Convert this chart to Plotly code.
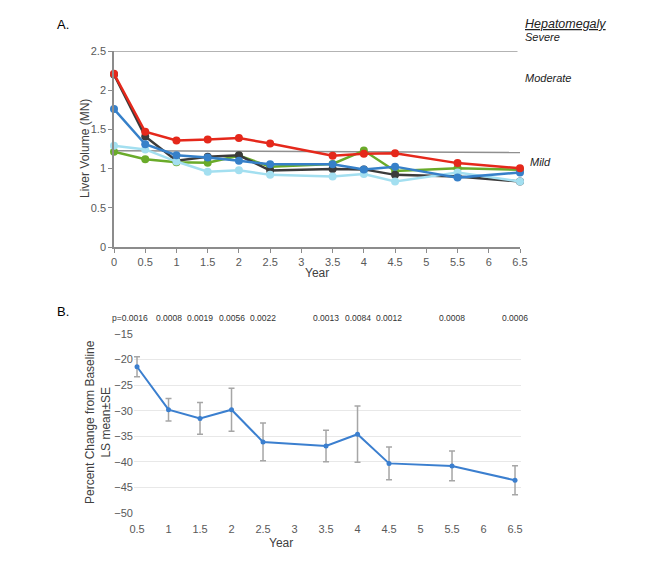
import plotly.graph_objects as go

W, H = 669, 561
OFF = 8  # page body margin offset

# ---------------- Data: Panel A ----------------
years_a = [0, 0.5, 1, 1.5, 2, 2.5, 3.5, 4, 4.5, 5.5, 6.5]
red_vals = [2.21, 1.47, 1.36, 1.37, 1.39, 1.32, 1.165, 1.19, 1.195, 1.07, 1.005]
black_vals = [2.20, 1.41, 1.10, 1.15, 1.17, 0.975, 0.995, 0.99, 0.92, 0.90, 0.835]
blue_vals = [1.76, 1.31, 1.17, 1.14, 1.10, 1.055, 1.055, 0.99, 1.025, 0.885, 0.95]
green_vals = [1.215, 1.12, 1.08, 1.075, 1.165, 1.025, 1.06, 1.23, 0.97, 1.005, 0.985]
lightblue_vals = [1.29, 1.245, 1.09, 0.96, 0.98, 0.92, 0.90, 0.93, 0.835, 0.95, 0.835]
severe_threshold = 2.5
mild_threshold = [1.228, 1.205]
severity_labels = ["Severe", "Moderate", "Mild"]

# ---------------- Data: Panel B ----------------
years_b = [0.5, 1, 1.5, 2, 2.5, 3.5, 4, 4.5, 5.5, 6.5]
pct_change = [-21.4, -29.8, -31.5, -29.8, -36.1, -36.9, -34.6, -40.3, -40.8, -43.6]
pct_se = [1.95, 2.2, 3.1, 4.2, 3.7, 3.1, 5.5, 3.2, 2.9, 2.85]
p_values = ["p=0.0016", "0.0008", "0.0019", "0.0056", "0.0022",
            "0.0013", "0.0084", "0.0012", "0.0008", "0.0006"]
x_ticks_a = [0, 0.5, 1, 1.5, 2, 2.5, 3, 3.5, 4, 4.5, 5, 5.5, 6, 6.5]
x_ticks_b = [0.5, 1, 1.5, 2, 2.5, 3, 3.5, 4, 4.5, 5, 5.5, 6, 6.5]
y_ticks_a = [0, 0.5, 1, 1.5, 2, 2.5]
y_ticks_b = [-50, -45, -40, -35, -30, -25, -20, -15]


def px(x):
    return (x - OFF) / W


def py(y):
    return 1 - (y - OFF) / H


FONT = "Liberation Sans, Arial, sans-serif"
fig = go.Figure()

series = [
    (green_vals, "#6aab2a"),
    (black_vals, "#3b3b3b"),
    (lightblue_vals, "#a3dff0"),
    (blue_vals, "#3680c9"),
    (red_vals, "#e5281b"),
]
for vals, col in series:
    fig.add_trace(go.Scatter(
        x=years_a, y=vals, mode="lines+markers",
        line=dict(color=col, width=2.5),
        marker=dict(color=col, size=8),
        cliponaxis=False, showlegend=False, xaxis="x", yaxis="y"))

fig.add_trace(go.Scatter(
    x=years_b, y=pct_change, mode="lines+markers",
    line=dict(color="#3b7fcf", width=2),
    marker=dict(color="#3b7fcf", size=5),
    error_y=dict(type="data", array=pct_se, color="#a6a6a6", thickness=1.5, width=3),
    cliponaxis=False, showlegend=False, xaxis="x2", yaxis="y2"))

shapes = [
    dict(type="line", xref="x", yref="y", x0=0, x1=6.46,
         y0=severe_threshold, y1=severe_threshold,
         line=dict(color="#9a9a9a", width=1.5), layer="below"),
    dict(type="line", xref="x", yref="y", x0=0, x1=6.55,
         y0=mild_threshold[0], y1=mild_threshold[1],
         line=dict(color="#8f8f8f", width=1.5), layer="below"),
]

annotations = []
def ann(text, x, y, size=12, color="#222", xanchor="center", angle=0, **kw):
    annotations.append(dict(text=text, x=px(x), y=py(y), xref="paper", yref="paper",
                            showarrow=False, xanchor=xanchor, yanchor="middle",
                            textangle=angle,
                            font=dict(family=FONT, size=size, color=color), **kw))

ann("A.", 55, 25, size=13, color="#000", xanchor="left")
ann("B.", 55, 311, size=13, color="#000", xanchor="left")
ann("<i><u>Hepatomegaly</u></i>", 523, 24, size=12.5, xanchor="left")
ann("<i>%s</i>" % severity_labels[0], 523, 37, size=11, xanchor="left")
ann("<i>%s</i>" % severity_labels[1], 523, 78, size=11, xanchor="left")
ann("<i>%s</i>" % severity_labels[2], 528, 162, size=11, xanchor="left")
ann("Liver Volume (MN)", 85, 149, size=12, color="#404040", angle=-90)
ann("Year", 317, 273, size=12, color="#404040")
ann("Year", 281, 543, size=12, color="#404040")
ann("Percent Change from Baseline<br>LS mean±SE", 98, 422, size=12, color="#404040", angle=-90)

for xv, txt in zip(years_b, p_values):
    annotations.append(dict(text=txt, x=xv, y=py(318), xref="x2", yref="paper",
                            showarrow=False, xanchor="center", yanchor="middle",
                            xshift=-7 if txt.startswith("p=") else 0,
                            font=dict(family=FONT, size=8.5, color="#333")))

tickfont = dict(family=FONT, size=11, color="#595959")

fig.update_layout(
    width=W, height=H,
    margin=dict(l=0, r=0, t=0, b=0, pad=0, autoexpand=False),
    paper_bgcolor="white", plot_bgcolor="white",
    showlegend=False,
    shapes=shapes, annotations=annotations,
    xaxis=dict(domain=[px(114), px(520)], anchor="y", range=[0, 6.5], automargin=False,
               tickvals=x_ticks_a, ticks="outside", ticklen=4, tickcolor="#8c8c8c",
               showline=True, linecolor="#8c8c8c", linewidth=1.5, showgrid=False,
               zeroline=False, tickfont=tickfont),
    yaxis=dict(domain=[py(247), py(51)], anchor="x", range=[0, 2.5], automargin=False,
               tickvals=y_ticks_a, ticks="outside", ticklen=4, tickcolor="#8c8c8c",
               showline=True, linecolor="#8c8c8c", linewidth=1.5, showgrid=False,
               zeroline=False, tickfont=tickfont),
    xaxis2=dict(domain=[px(134), px(521)], anchor="y2", range=[0.452, 6.595], automargin=False,
                tickvals=x_ticks_b, ticks="outside", ticklen=6, tickcolor="rgba(0,0,0,0)",
                showline=False, showgrid=False, zeroline=False, tickfont=tickfont),
    yaxis2=dict(domain=[py(513), py(334)], anchor="x2", range=[-50, -15], automargin=False,
                tickvals=y_ticks_b, showline=False, showgrid=True, gridcolor="#e8e8e8",
                gridwidth=1, zeroline=False, tickfont=tickfont),
)

fig.write_html("out.html")
